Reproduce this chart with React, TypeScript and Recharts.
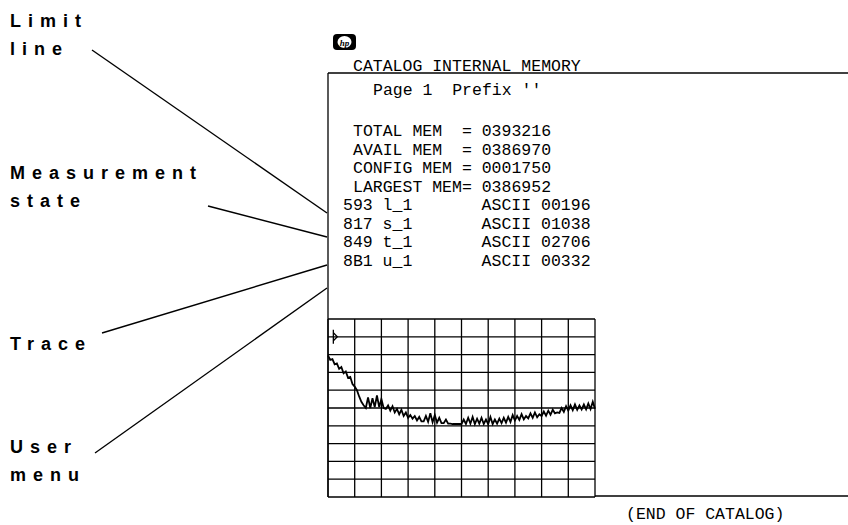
import { CartesianGrid, Line, LineChart, ReferenceDot, XAxis, YAxis } from "recharts"

// trace amplitude, in graticule divisions (0 = bottom line, 10 = top line)
const traceLevels = [
  7.95, 7.7, 7.75, 7.45, 7.5, 7.2, 7.3, 6.95, 7.05, 6.7, 6.75, 6.35, 6.2, 6.0, 5.65, 5.35, 5.15, 5.0, 5.6, 5.0,
  5.55, 5.05, 5.7, 5.05, 5.5, 5.0, 4.95, 5.15, 4.85, 5.1, 4.75, 4.95, 4.65, 4.9, 4.55, 4.75, 4.45, 4.6, 4.4, 4.55,
  4.3, 4.5, 4.25, 4.25, 4.55, 4.22, 4.7, 4.2, 4.6, 4.18, 4.45, 4.15, 4.15, 4.35, 4.12, 4.12, 4.1, 4.1, 4.1, 4.1,
  4.1, 4.35, 4.1, 4.45, 4.12, 4.5, 4.1, 4.4, 4.12, 4.45, 4.1, 4.35, 4.1, 4.5, 4.1, 4.35, 4.12, 4.4, 4.15, 4.45,
  4.18, 4.5, 4.22, 4.6, 4.3, 4.55, 4.33, 4.65, 4.36, 4.55, 4.42, 4.7, 4.45, 4.75, 4.48, 4.65, 4.55, 4.8, 4.57, 4.85,
  4.62, 4.9, 4.7, 4.75, 4.72, 5.0, 4.78, 5.1, 4.85, 5.15, 4.88, 5.2, 4.9, 5.15, 4.92, 5.2, 4.92, 5.25, 4.94, 5.35,
  4.95,
]

const gridTicks = [0, 1, 2, 3, 4, 5, 6, 7, 8, 9, 10]
const refMarker = { x: 0.2, level: 9.0 }

const catalogTitle = "CATALOG INTERNAL MEMORY"
const pageLine = "Page 1  Prefix ''"
const memoryLines = [
  "TOTAL MEM  = 0393216",
  "AVAIL MEM  = 0386970",
  "CONFIG MEM = 0001750",
  "LARGEST MEM= 0386952",
]
const fileLines = [
  "593 l_1       ASCII 00196",
  "817 s_1       ASCII 01038",
  "849 t_1       ASCII 02706",
  "8B1 u_1       ASCII 00332",
]
const endLine = "(END OF CATALOG)"

const calloutLabels = [
  ["Limit", "line"],
  ["Measurement", "state"],
  ["Trace"],
  ["User", "menu"],
]

const traceData = traceLevels.map((level, i) => ({ x: (i * 10) / (traceLevels.length - 1), level }))

const mono = { fontFamily: "'Liberation Mono', monospace", fontSize: 16.5, whiteSpace: "pre" as const }
const label = { fontFamily: "'Liberation Sans', Arial, sans-serif", fontSize: 18, fontWeight: 700, letterSpacing: 7 }

function Marker(props: any) {
  const { cx, cy } = props
  return (
    <g>
      <line x1={cx} y1={cy - 7} x2={cx} y2={cy + 7} stroke="#000" strokeWidth={1.3} />
      <path d={`M${cx},${cy - 4} L${cx + 4},${cy} L${cx},${cy + 4}`} fill="none" stroke="#000" strokeWidth={1.3} />
    </g>
  )
}

export default function App() {
  return (
    <div style={{ position: "absolute", left: 0, top: 0, width: 848, height: 525, background: "#fff" }}>
      <LineChart
        width={848}
        height={525}
        data={traceData}
        margin={{ top: 319, right: 253, bottom: 28, left: 328 }}
        style={{ position: "absolute", left: 0, top: 0 }}
      >
        <CartesianGrid stroke="#000" strokeWidth={1.3} />
        <XAxis type="number" dataKey="x" domain={[0, 10]} ticks={gridTicks} interval={0} hide />
        <YAxis type="number" domain={[0, 10]} ticks={gridTicks} interval={0} hide />
        <Line
          type="linear"
          dataKey="level"
          stroke="#000"
          strokeWidth={1.8}
          dot={false}
          isAnimationActive={false}
        />
        <ReferenceDot x={refMarker.x} y={refMarker.level} shape={<Marker />} />
      </LineChart>

      <svg width={848} height={525} style={{ position: "absolute", left: 0, top: 0, pointerEvents: "none" }}>
        {/* catalog frame */}
        <line x1={328} y1={73} x2={848} y2={73} stroke="#000" strokeWidth={1.3} />
        <line x1={328} y1={73} x2={328} y2={497} stroke="#000" strokeWidth={1.3} />
        <line x1={595} y1={496} x2={848} y2={496} stroke="#000" strokeWidth={1.3} />

        {/* hp logo */}
        <rect x={333} y={34} width={23} height={16} rx={4} fill="#000" />
        <ellipse cx={344.5} cy={42} rx={7} ry={6} fill="#fff" />
        <text x={344.5} y={45.5} textAnchor="middle" fontSize={9} fontStyle="italic" fontWeight={700} fontFamily="'Liberation Serif', serif">
          hp
        </text>

        <text x={353} y={71} style={mono}>{catalogTitle}</text>
        <text x={373} y={95} style={mono}>{pageLine}</text>
        {memoryLines.map((t, i) => (
          <text key={t} x={353} y={136 + i * 18.5} style={mono}>{t}</text>
        ))}
        {fileLines.map((t, i) => (
          <text key={t} x={343} y={210 + i * 18.5} style={mono}>{t}</text>
        ))}
        <text x={626} y={519} style={mono}>{endLine}</text>

        {/* callouts */}
        <text x={10} y={27} style={label}>{calloutLabels[0][0]}</text>
        <text x={10} y={55} style={label}>{calloutLabels[0][1]}</text>
        <text x={10} y={179} style={label}>{calloutLabels[1][0]}</text>
        <text x={10} y={207} style={label}>{calloutLabels[1][1]}</text>
        <text x={10} y={350} style={label}>{calloutLabels[2][0]}</text>
        <text x={10} y={453} style={label}>{calloutLabels[3][0]}</text>
        <text x={10} y={481} style={label}>{calloutLabels[3][1]}</text>

        <line x1={92} y1={50} x2={327} y2={213} stroke="#000" strokeWidth={1.4} />
        <line x1={208} y1={206} x2={327} y2={237} stroke="#000" strokeWidth={1.4} />
        <line x1={102} y1={333} x2={327} y2={265} stroke="#000" strokeWidth={1.4} />
        <line x1={95} y1={453} x2={327} y2={288} stroke="#000" strokeWidth={1.4} />
      </svg>
    </div>
  )
}
